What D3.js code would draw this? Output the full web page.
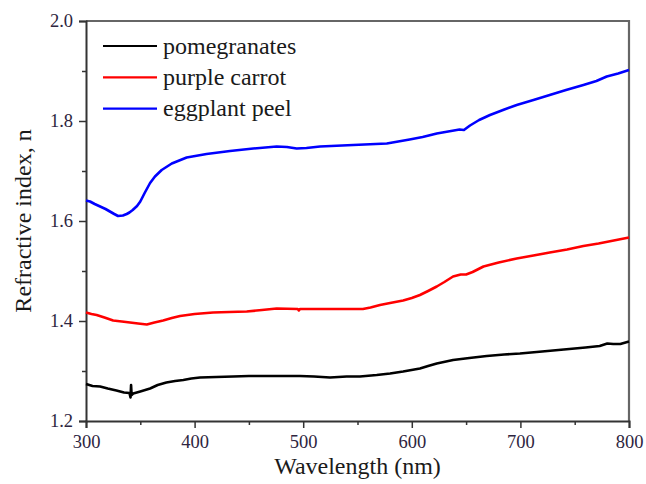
<!DOCTYPE html>
<html><head><meta charset="utf-8">
<script src="https://cdn.jsdelivr.net/npm/d3@7"></script>
<style>body{margin:0;background:#fff}svg{display:block}</style>
</head><body>
<svg id="chart" width="646" height="484"></svg>
<script>
const seriesNames = ["pomegranates", "purple carrot", "eggplant peel"];
const seriesColors = ["#000000", "#ff0000", "#0000ff"];
const xTicks = [300, 400, 500, 600, 700, 800];
const yTicks = [1.2, 1.4, 1.6, 1.8, 2.0];
const pomegranates = [
  [300,1.274],[306,1.270],[313,1.269],[320,1.265],[328,1.261],[335,1.257],[340,1.256],[341,1.247],[341.5,1.272],[342,1.252],[343.5,1.255],[350,1.259],[359,1.265],[366,1.272],[374,1.277],[382,1.280],[389.6,1.282],[397,1.285],[405,1.287],[420,1.288],[435.5,1.289],[450,1.290],[466,1.290],[482,1.290],[497,1.290],[510,1.289],[524.7,1.287],[540,1.289],[552.3,1.289],[567.7,1.292],[580,1.295],[592,1.299],[607.5,1.305],[615,1.310],[623,1.315],[638,1.322],[653,1.326],[669,1.330],[685,1.333],[699.6,1.335],[715,1.338],[730,1.341],[745,1.344],[760,1.347],[773,1.350],[780,1.355],[785.5,1.354],[792,1.354],[800,1.359]
];
const purpleCarrot = [
  [300,1.417],[305,1.414],[309.8,1.412],[317,1.407],[325,1.401],[333,1.399],[340.5,1.397],[348,1.395],[356,1.393],[363,1.397],[371,1.401],[379,1.406],[386.6,1.410],[400,1.414],[417,1.417],[432,1.418],[448,1.419],[462,1.422],[475.6,1.425],[495,1.424],[496,1.421],[497,1.424],[520,1.424],[555,1.424],[562,1.427],[570.7,1.432],[580,1.436],[592,1.441],[600,1.446],[607.5,1.452],[615,1.460],[623,1.469],[630,1.478],[638,1.489],[645,1.493],[650,1.493],[656,1.498],[666,1.509],[680,1.517],[696.6,1.525],[712,1.531],[727,1.537],[743,1.543],[758,1.550],[772,1.555],[786,1.561],[800,1.567]
];
const eggplantPeel = [
  [300,1.641],[303.7,1.639],[308,1.634],[313,1.629],[318,1.624],[322,1.619],[326,1.614],[329.5,1.610],[334,1.611],[337.5,1.614],[340,1.617],[343,1.622],[347,1.630],[350,1.639],[354,1.656],[359,1.676],[363.5,1.689],[369.7,1.702],[379,1.715],[392.7,1.727],[411,1.734],[432.6,1.740],[454,1.745],[475.6,1.749],[485,1.748],[494,1.745],[503,1.746],[515.5,1.749],[546,1.752],[577,1.755],[598,1.763],[610,1.768],[623,1.775],[644,1.783],[648,1.782],[653.6,1.791],[662,1.802],[672,1.812],[684,1.822],[696.6,1.832],[712,1.842],[727,1.852],[742,1.862],[758,1.872],[770,1.880],[779.5,1.889],[790,1.895],[800,1.902]
];
const allSeries = [pomegranates, purpleCarrot, eggplantPeel];

const svg = d3.select("#chart");
const m = {left: 86, top: 21, right: 629, bottom: 421};
const x = d3.scaleLinear().domain([300, 800]).range([m.left, m.right]);
const y = d3.scaleLinear().domain([1.2, 2.0]).range([m.bottom, m.top]);
const font = "Liberation Serif";
const tickColor = "#2e2540";

svg.append("path")
  .attr("d", `M${m.left},${m.top}H${m.right}V${m.bottom}`)
  .attr("fill", "none").attr("stroke", "#666").attr("stroke-width", 2.2);

const xAxis = d3.axisBottom(x).tickValues(xTicks).tickFormat(d3.format("d")).tickSize(7).tickPadding(6);
const gx = svg.append("g").attr("transform", `translate(0,${m.bottom})`).call(xAxis);
const xMinor = d3.axisBottom(x).tickValues([350,450,550,650,750]).tickFormat("").tickSize(4);
svg.append("g").attr("transform", `translate(0,${m.bottom})`).call(xMinor).select(".domain").remove();

const yAxis = d3.axisLeft(y).tickValues(yTicks).tickFormat(d3.format(".1f")).tickSize(7).tickPadding(6);
const gy = svg.append("g").attr("transform", `translate(${m.left},0)`).call(yAxis);
const yMinor = d3.axisLeft(y).tickValues([1.3,1.5,1.7,1.9]).tickFormat("").tickSize(4);
svg.append("g").attr("transform", `translate(${m.left},0)`).call(yMinor).select(".domain").remove();

svg.selectAll(".domain").attr("stroke", "#333").attr("stroke-width", 2);
svg.selectAll(".tick line").attr("stroke", "#333").attr("stroke-width", 1.5);
svg.selectAll(".tick text").style("font-family", font).attr("font-size", 18.5).attr("fill", tickColor);
gx.selectAll(".tick text").attr("dy", "0.78em");

const line = d3.line().x(d => x(d[0])).y(d => y(d[1]));
allSeries.forEach((s, i) => {
  svg.append("path").datum(s).attr("d", line)
    .attr("fill", "none").attr("stroke", seriesColors[i])
    .attr("stroke-width", 2.6).attr("stroke-linejoin", "round");
});

const lg = svg.append("g");
seriesNames.forEach((n, i) => {
  const yy = 46 + i * 31.3;
  lg.append("line").attr("x1", 103).attr("x2", 157).attr("y1", yy).attr("y2", yy)
    .attr("stroke", seriesColors[i]).attr("stroke-width", 2.2);
  lg.append("text").attr("x", 163).attr("y", yy + 7.5).text(n)
    .style("font-family", font).attr("font-size", 24).attr("fill", "#1a1a1a");
});

svg.append("text").attr("x", (m.left + m.right) / 2).attr("y", 474)
  .attr("text-anchor", "middle").style("font-family", font).attr("font-size", 24)
  .attr("fill", "#1a1a1a").text("Wavelength (nm)");
svg.append("text").attr("transform", `translate(31,${(m.top + m.bottom) / 2}) rotate(-90)`)
  .attr("text-anchor", "middle").style("font-family", font).attr("font-size", 24)
  .attr("fill", "#1a1a1a").text("Refractive index, n");
</script>
</body></html>
